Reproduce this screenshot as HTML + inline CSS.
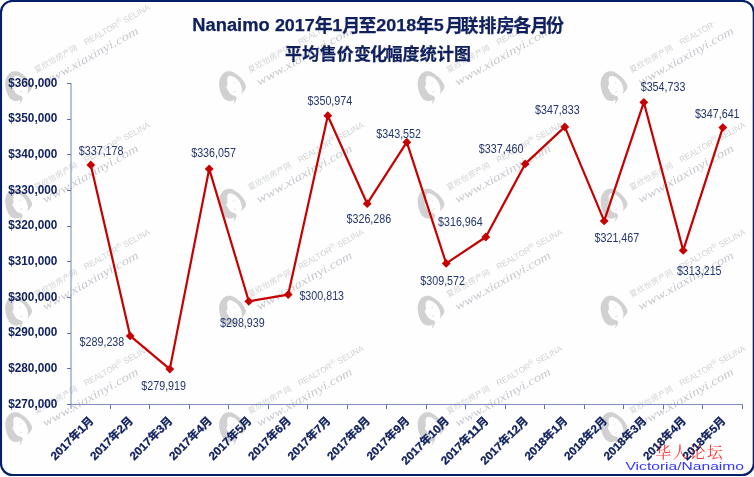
<!DOCTYPE html>
<html lang="zh"><head><meta charset="utf-8"><title>Nanaimo 2017年1月至2018年5月联排房各月份平均售价变化幅度统计图</title>
<style>
html,body{margin:0;padding:0;background:#fff;}
body{width:754px;height:477px;overflow:hidden;font-family:"Liberation Sans",sans-serif;}
svg{display:block;will-change:transform;opacity:0.999;}
</style></head><body>
<svg width="754" height="477" viewBox="0 0 754 477" role="img" aria-label="Nanaimo 2017年1月至2018年5月联排房各月份平均售价变化幅度统计图">
<defs>
<g id="wmface"><path fill="#7a7a7a" fill-opacity="0.34" d="M-4.6 -17.2C-2 -17.4 0 -16.8 1.3 -16C3.5 -14.8 5.5 -13.5 7.2 -11.8C9 -10 10.3 -8.5 11.4 -6.7C12.5 -5 13.3 -3.5 13.5 -2.1C13.6 -0.5 12.6 1 11.4 2.5C10.6 3.5 9.8 4.5 8.8 5.4C9.3 3.5 9.6 1.8 9.3 0C9 -2 8.3 -4 7.2 -5.9C6 -7.8 4.6 -9.3 3 -10.5C1.6 -11.6 0.2 -12.4 -1.2 -12.6C-2.4 -12.8 -3.4 -12.6 -4.2 -12.2C-5 -11 -5.4 -9.8 -5.4 -8.4C-5.4 -7 -5.2 -5.6 -5 -4.2C-5.2 -3.2 -5.8 -2.2 -6.3 -1.3C-5.8 -0.4 -5.2 0.6 -4.6 1.6C-4.1 2.9 -3.4 4 -2.5 5C-1.4 6 -0.2 6.7 1.3 7.1C2 7.3 2.7 7.6 3.4 7.9C3.8 8.6 4.1 9.3 4.2 10C3.4 12.2 2.2 14.2 0.9 15.9C1.3 14.4 1.6 12.8 1.7 11.3C0.8 11.9 -0.2 12.3 -1.2 12.5C-2.6 12.7 -4 12.6 -5.4 12.1C-7 11.3 -8.5 10 -9.6 8.4C-11 6.4 -12 4 -12.5 1.6C-13 -0.6 -13.4 -2.8 -13.4 -5.1C-13.4 -7.5 -12.8 -9.8 -11.7 -11.8C-10.9 -13.3 -10 -14.5 -8.8 -15.5C-7.5 -16.5 -6 -17 -4.6 -17.2Z"/><path d="M0.6 -5l1.5 -1.1M1.2 3.8l2.2 -1.3" stroke="#7a7a7a" stroke-opacity="0.3" stroke-width="0.8" fill="none"/></g>
<g id="wmt"><g transform="translate(17.6 -15.6) rotate(-29.3)" fill="#6a6a7c" fill-opacity="0.3"><text x="0 8.05 16.10 24.15 32.20 40.25" y="0" font-family="'Liberation Sans', 'Noto Sans CJK SC', sans-serif" font-size="7.8">夏欣怡房产网</text></g><text transform="translate(67.4 -43.2) rotate(-29.3)" font-family="'Liberation Sans', sans-serif" font-size="8.4" fill="#6a6a7c" fill-opacity="0.3" textLength="74" lengthAdjust="spacingAndGlyphs">REALTOR<tspan dy="-3.2" font-size="7.4">®</tspan><tspan dy="3.2"> SELINA</tspan></text><text transform="translate(26.5 -2.5) rotate(-29.3)" x="0" y="0" font-family="'Liberation Serif', cursive" font-style="italic" font-size="12" fill="#6a6a7c" fill-opacity="0.36" textLength="108" lengthAdjust="spacingAndGlyphs">www.xiaxinyi.com</text></g>
<clipPath id="wmclip"><path d="M0 0H185V31H580V0H711V22.5H754V477H0Z"/></clipPath>
</defs>
<rect x="0.95" y="0.95" width="752.85" height="474.05" rx="11.5" ry="11.5" fill="#fdfefd" stroke="#05206a" stroke-width="2.2"/>
<g clip-path="url(#wmclip)">
<use href="#wmface" x="18.6" y="88.5"/><use href="#wmt" x="18.6" y="88.5"/>
<use href="#wmface" x="232.5" y="88.5"/><use href="#wmt" x="232.5" y="88.5"/>
<use href="#wmface" x="431.0" y="88.5"/><use href="#wmt" x="431.0" y="88.5"/>
<use href="#wmface" x="614.0" y="88.5"/><use href="#wmt" x="614.0" y="88.5"/>
<use href="#wmface" x="18.6" y="206.0"/><use href="#wmt" x="18.6" y="206.0"/>
<use href="#wmface" x="232.5" y="206.0"/><use href="#wmt" x="232.5" y="206.0"/>
<use href="#wmface" x="431.0" y="206.0"/><use href="#wmt" x="431.0" y="206.0"/>
<use href="#wmface" x="614.0" y="206.0"/><use href="#wmt" x="614.0" y="206.0"/>
<use href="#wmface" x="18.6" y="313.0"/><use href="#wmt" x="18.6" y="313.0"/>
<use href="#wmface" x="232.5" y="313.0"/><use href="#wmt" x="232.5" y="313.0"/>
<use href="#wmface" x="431.0" y="313.0"/><use href="#wmt" x="431.0" y="313.0"/>
<use href="#wmface" x="614.0" y="313.0"/><use href="#wmt" x="614.0" y="313.0"/>
<use href="#wmface" x="18.6" y="429.5"/><use href="#wmt" x="18.6" y="429.5"/>
<use href="#wmface" x="232.5" y="429.5"/><use href="#wmt" x="232.5" y="429.5"/>
<use href="#wmface" x="431.0" y="429.5"/><use href="#wmt" x="431.0" y="429.5"/>
<use href="#wmface" x="614.0" y="429.5"/><use href="#wmt" x="614.0" y="429.5"/>
</g>
<path d="M71.0 83.0V408.8" stroke="#7486b8" stroke-width="1" fill="none"/>
<g stroke="#7f8fbe" stroke-width="1" fill="none" shape-rendering="crispEdges">
<path d="M70.0 404.5H743.0"/>
</g><g stroke="#5f72aa" stroke-width="1" fill="none" shape-rendering="crispEdges">
<path d="M67.0 83.5H71.0"/>
<path d="M67.0 119.2H71.0"/>
<path d="M67.0 154.8H71.0"/>
<path d="M67.0 190.5H71.0"/>
<path d="M67.0 226.2H71.0"/>
<path d="M67.0 261.8H71.0"/>
<path d="M67.0 297.5H71.0"/>
<path d="M67.0 333.2H71.0"/>
<path d="M67.0 368.8H71.0"/>
<path d="M67.0 404.5H71.0"/>
<path d="M110.0 404.5V408.8"/>
<path d="M149.5 404.5V408.8"/>
<path d="M189.0 404.5V408.8"/>
<path d="M228.5 404.5V408.8"/>
<path d="M268.0 404.5V408.8"/>
<path d="M307.5 404.5V408.8"/>
<path d="M347.0 404.5V408.8"/>
<path d="M386.5 404.5V408.8"/>
<path d="M426.0 404.5V408.8"/>
<path d="M465.5 404.5V408.8"/>
<path d="M505.0 404.5V408.8"/>
<path d="M544.5 404.5V408.8"/>
<path d="M584.0 404.5V408.8"/>
<path d="M623.5 404.5V408.8"/>
<path d="M663.0 404.5V408.8"/>
<path d="M702.5 404.5V408.8"/>
<path d="M742.0 404.5V408.8"/>
</g>
<g font-family="'Liberation Sans', sans-serif" font-weight="bold" font-size="12.0" fill="#10205e" text-anchor="end">
<text x="57.4" y="86.6" textLength="49.2" lengthAdjust="spacingAndGlyphs">$360,000</text>
<text x="57.4" y="122.3" textLength="49.2" lengthAdjust="spacingAndGlyphs">$350,000</text>
<text x="57.4" y="157.9" textLength="49.2" lengthAdjust="spacingAndGlyphs">$340,000</text>
<text x="57.4" y="193.6" textLength="49.2" lengthAdjust="spacingAndGlyphs">$330,000</text>
<text x="57.4" y="229.3" textLength="49.2" lengthAdjust="spacingAndGlyphs">$320,000</text>
<text x="57.4" y="264.9" textLength="49.2" lengthAdjust="spacingAndGlyphs">$310,000</text>
<text x="57.4" y="300.6" textLength="49.2" lengthAdjust="spacingAndGlyphs">$300,000</text>
<text x="57.4" y="336.3" textLength="49.2" lengthAdjust="spacingAndGlyphs">$290,000</text>
<text x="57.4" y="371.9" textLength="49.2" lengthAdjust="spacingAndGlyphs">$280,000</text>
<text x="57.4" y="407.6" textLength="49.2" lengthAdjust="spacingAndGlyphs">$270,000</text>
</g>
<polyline fill="none" stroke="#c60000" stroke-width="2.2" stroke-linejoin="round" points="90.8,164.9 130.2,335.9 169.8,369.1 209.2,168.9 248.8,301.3 288.2,294.6 327.8,115.7 367.2,203.7 406.8,142.2 446.2,263.4 485.8,237.0 525.2,163.9 564.8,126.9 604.2,220.9 643.8,102.3 683.2,250.4 722.8,127.6"/>
<g fill="#c60000">
<path d="M90.8 160.5l4.4 4.4l-4.4 4.4l-4.4 -4.4z"/>
<path d="M130.2 331.5l4.4 4.4l-4.4 4.4l-4.4 -4.4z"/>
<path d="M169.8 364.7l4.4 4.4l-4.4 4.4l-4.4 -4.4z"/>
<path d="M209.2 164.5l4.4 4.4l-4.4 4.4l-4.4 -4.4z"/>
<path d="M248.8 296.9l4.4 4.4l-4.4 4.4l-4.4 -4.4z"/>
<path d="M288.2 290.2l4.4 4.4l-4.4 4.4l-4.4 -4.4z"/>
<path d="M327.8 111.3l4.4 4.4l-4.4 4.4l-4.4 -4.4z"/>
<path d="M367.2 199.3l4.4 4.4l-4.4 4.4l-4.4 -4.4z"/>
<path d="M406.8 137.8l4.4 4.4l-4.4 4.4l-4.4 -4.4z"/>
<path d="M446.2 259.0l4.4 4.4l-4.4 4.4l-4.4 -4.4z"/>
<path d="M485.8 232.6l4.4 4.4l-4.4 4.4l-4.4 -4.4z"/>
<path d="M525.2 159.5l4.4 4.4l-4.4 4.4l-4.4 -4.4z"/>
<path d="M564.8 122.5l4.4 4.4l-4.4 4.4l-4.4 -4.4z"/>
<path d="M604.2 216.5l4.4 4.4l-4.4 4.4l-4.4 -4.4z"/>
<path d="M643.8 97.9l4.4 4.4l-4.4 4.4l-4.4 -4.4z"/>
<path d="M683.2 246.0l4.4 4.4l-4.4 4.4l-4.4 -4.4z"/>
<path d="M722.8 123.2l4.4 4.4l-4.4 4.4l-4.4 -4.4z"/>
</g>
<g font-family="'Liberation Sans', sans-serif" font-size="12.0" fill="#24366f">
<text x="78.8" y="155.2" textLength="44.7" lengthAdjust="spacingAndGlyphs">$337,178</text>
<text x="79.6" y="345.5" textLength="44.7" lengthAdjust="spacingAndGlyphs">$289,238</text>
<text x="141.3" y="389.9" textLength="44.7" lengthAdjust="spacingAndGlyphs">$279,919</text>
<text x="191.2" y="156.7" textLength="44.7" lengthAdjust="spacingAndGlyphs">$336,057</text>
<text x="220.0" y="326.9" textLength="44.7" lengthAdjust="spacingAndGlyphs">$298,939</text>
<text x="299.4" y="299.9" textLength="44.7" lengthAdjust="spacingAndGlyphs">$300,813</text>
<text x="307.5" y="105.2" textLength="44.7" lengthAdjust="spacingAndGlyphs">$350,974</text>
<text x="346.5" y="222.8" textLength="44.7" lengthAdjust="spacingAndGlyphs">$326,286</text>
<text x="376.3" y="137.7" textLength="44.7" lengthAdjust="spacingAndGlyphs">$343,552</text>
<text x="420.3" y="284.8" textLength="44.7" lengthAdjust="spacingAndGlyphs">$309,572</text>
<text x="438.0" y="226.4" textLength="44.7" lengthAdjust="spacingAndGlyphs">$316,964</text>
<text x="478.8" y="153.2" textLength="44.7" lengthAdjust="spacingAndGlyphs">$337,460</text>
<text x="535.0" y="114.4" textLength="44.7" lengthAdjust="spacingAndGlyphs">$347,833</text>
<text x="594.5" y="242.0" textLength="44.7" lengthAdjust="spacingAndGlyphs">$321,467</text>
<text x="640.7" y="91.2" textLength="44.7" lengthAdjust="spacingAndGlyphs">$354,733</text>
<text x="676.9" y="274.5" textLength="44.7" lengthAdjust="spacingAndGlyphs">$313,215</text>
<text x="694.9" y="117.7" textLength="44.7" lengthAdjust="spacingAndGlyphs">$347,641</text>
</g>
<g fill="#10205e" stroke="#10205e" stroke-width="0.25" font-family="'Liberation Sans', 'Noto Sans CJK SC', sans-serif"><text x="192.30" y="30.90" font-size="17.50" font-weight="bold" textLength="77.40" lengthAdjust="spacingAndGlyphs">Nanaimo</text><text x="274.90" y="30.90" font-size="17.30" font-weight="bold" textLength="39.90" lengthAdjust="spacingAndGlyphs">2017</text><text x="332.30" y="30.90" font-size="17.30" font-weight="bold" textLength="10.00" lengthAdjust="spacingAndGlyphs">1</text><text x="376.30" y="30.90" font-size="17.30" font-weight="bold" textLength="39.90" lengthAdjust="spacingAndGlyphs">2018</text><text x="433.80" y="30.90" font-size="17.30" font-weight="bold" textLength="10.00" lengthAdjust="spacingAndGlyphs">5</text><text x="314.63" y="31.60" font-size="18" font-weight="bold">年</text><text x="342.34 358.38" y="31.60" font-size="18" font-weight="bold">月至</text><text x="416.03" y="31.60" font-size="18" font-weight="bold">年</text><text x="445.14 460.53 478.41 496.55 513.34 530.54 545.97" y="31.60" font-size="18" font-weight="bold">月联排房各月份</text><text x="285.02 302.28 319.77 336.67 353.88 369.94 385.62 402.58 419.83 436.91 453.88" y="60.10" font-size="17" font-weight="bold">平均售价变化幅度统计图</text></g>
<g fill="#ff3434" font-family="'Liberation Serif', 'Noto Serif CJK SC', serif"><text x="655.40 672.60 689.80 707.00" y="458.40" font-size="15.6">华人论坛</text></g>
<text x="625.5" y="469.9" font-family="'Liberation Sans', sans-serif" font-size="11.3" fill="#3535ff" textLength="118.5" lengthAdjust="spacingAndGlyphs">Victoria/Nanaimo</text>
<g transform="translate(94.35 421.50) rotate(-45) translate(-55.35 0)" stroke="#10205e" stroke-width="0.3"><g fill="#10205e" font-family="'Liberation Sans', 'Noto Sans CJK SC', sans-serif"><text x="0.00" y="0.00" font-size="11.30" font-weight="bold" textLength="26.20" lengthAdjust="spacingAndGlyphs">2017</text><text x="26.20" y="0.00" font-size="11.30" font-weight="bold">年</text><text x="37.50" y="0.00" font-size="11.30" font-weight="bold" textLength="6.55" lengthAdjust="spacingAndGlyphs">1</text><text x="44.05" y="0.00" font-size="11.30" font-weight="bold">月</text></g></g>
<g transform="translate(133.85 421.50) rotate(-45) translate(-55.35 0)" stroke="#10205e" stroke-width="0.3"><g fill="#10205e" font-family="'Liberation Sans', 'Noto Sans CJK SC', sans-serif"><text x="0.00" y="0.00" font-size="11.30" font-weight="bold" textLength="26.20" lengthAdjust="spacingAndGlyphs">2017</text><text x="26.20" y="0.00" font-size="11.30" font-weight="bold">年</text><text x="37.50" y="0.00" font-size="11.30" font-weight="bold" textLength="6.55" lengthAdjust="spacingAndGlyphs">2</text><text x="44.05" y="0.00" font-size="11.30" font-weight="bold">月</text></g></g>
<g transform="translate(173.35 421.50) rotate(-45) translate(-55.35 0)" stroke="#10205e" stroke-width="0.3"><g fill="#10205e" font-family="'Liberation Sans', 'Noto Sans CJK SC', sans-serif"><text x="0.00" y="0.00" font-size="11.30" font-weight="bold" textLength="26.20" lengthAdjust="spacingAndGlyphs">2017</text><text x="26.20" y="0.00" font-size="11.30" font-weight="bold">年</text><text x="37.50" y="0.00" font-size="11.30" font-weight="bold" textLength="6.55" lengthAdjust="spacingAndGlyphs">3</text><text x="44.05" y="0.00" font-size="11.30" font-weight="bold">月</text></g></g>
<g transform="translate(212.85 421.50) rotate(-45) translate(-55.35 0)" stroke="#10205e" stroke-width="0.3"><g fill="#10205e" font-family="'Liberation Sans', 'Noto Sans CJK SC', sans-serif"><text x="0.00" y="0.00" font-size="11.30" font-weight="bold" textLength="26.20" lengthAdjust="spacingAndGlyphs">2017</text><text x="26.20" y="0.00" font-size="11.30" font-weight="bold">年</text><text x="37.50" y="0.00" font-size="11.30" font-weight="bold" textLength="6.55" lengthAdjust="spacingAndGlyphs">4</text><text x="44.05" y="0.00" font-size="11.30" font-weight="bold">月</text></g></g>
<g transform="translate(252.35 421.50) rotate(-45) translate(-55.35 0)" stroke="#10205e" stroke-width="0.3"><g fill="#10205e" font-family="'Liberation Sans', 'Noto Sans CJK SC', sans-serif"><text x="0.00" y="0.00" font-size="11.30" font-weight="bold" textLength="26.20" lengthAdjust="spacingAndGlyphs">2017</text><text x="26.20" y="0.00" font-size="11.30" font-weight="bold">年</text><text x="37.50" y="0.00" font-size="11.30" font-weight="bold" textLength="6.55" lengthAdjust="spacingAndGlyphs">5</text><text x="44.05" y="0.00" font-size="11.30" font-weight="bold">月</text></g></g>
<g transform="translate(291.85 421.50) rotate(-45) translate(-55.35 0)" stroke="#10205e" stroke-width="0.3"><g fill="#10205e" font-family="'Liberation Sans', 'Noto Sans CJK SC', sans-serif"><text x="0.00" y="0.00" font-size="11.30" font-weight="bold" textLength="26.20" lengthAdjust="spacingAndGlyphs">2017</text><text x="26.20" y="0.00" font-size="11.30" font-weight="bold">年</text><text x="37.50" y="0.00" font-size="11.30" font-weight="bold" textLength="6.55" lengthAdjust="spacingAndGlyphs">6</text><text x="44.05" y="0.00" font-size="11.30" font-weight="bold">月</text></g></g>
<g transform="translate(331.35 421.50) rotate(-45) translate(-55.35 0)" stroke="#10205e" stroke-width="0.3"><g fill="#10205e" font-family="'Liberation Sans', 'Noto Sans CJK SC', sans-serif"><text x="0.00" y="0.00" font-size="11.30" font-weight="bold" textLength="26.20" lengthAdjust="spacingAndGlyphs">2017</text><text x="26.20" y="0.00" font-size="11.30" font-weight="bold">年</text><text x="37.50" y="0.00" font-size="11.30" font-weight="bold" textLength="6.55" lengthAdjust="spacingAndGlyphs">7</text><text x="44.05" y="0.00" font-size="11.30" font-weight="bold">月</text></g></g>
<g transform="translate(370.85 421.50) rotate(-45) translate(-55.35 0)" stroke="#10205e" stroke-width="0.3"><g fill="#10205e" font-family="'Liberation Sans', 'Noto Sans CJK SC', sans-serif"><text x="0.00" y="0.00" font-size="11.30" font-weight="bold" textLength="26.20" lengthAdjust="spacingAndGlyphs">2017</text><text x="26.20" y="0.00" font-size="11.30" font-weight="bold">年</text><text x="37.50" y="0.00" font-size="11.30" font-weight="bold" textLength="6.55" lengthAdjust="spacingAndGlyphs">8</text><text x="44.05" y="0.00" font-size="11.30" font-weight="bold">月</text></g></g>
<g transform="translate(410.35 421.50) rotate(-45) translate(-55.35 0)" stroke="#10205e" stroke-width="0.3"><g fill="#10205e" font-family="'Liberation Sans', 'Noto Sans CJK SC', sans-serif"><text x="0.00" y="0.00" font-size="11.30" font-weight="bold" textLength="26.20" lengthAdjust="spacingAndGlyphs">2017</text><text x="26.20" y="0.00" font-size="11.30" font-weight="bold">年</text><text x="37.50" y="0.00" font-size="11.30" font-weight="bold" textLength="6.55" lengthAdjust="spacingAndGlyphs">9</text><text x="44.05" y="0.00" font-size="11.30" font-weight="bold">月</text></g></g>
<g transform="translate(449.85 421.50) rotate(-45) translate(-61.90 0)" stroke="#10205e" stroke-width="0.3"><g fill="#10205e" font-family="'Liberation Sans', 'Noto Sans CJK SC', sans-serif"><text x="0.00" y="0.00" font-size="11.30" font-weight="bold" textLength="26.20" lengthAdjust="spacingAndGlyphs">2017</text><text x="26.20" y="0.00" font-size="11.30" font-weight="bold">年</text><text x="37.50" y="0.00" font-size="11.30" font-weight="bold" textLength="13.10" lengthAdjust="spacingAndGlyphs">10</text><text x="50.60" y="0.00" font-size="11.30" font-weight="bold">月</text></g></g>
<g transform="translate(489.35 421.50) rotate(-45) translate(-61.90 0)" stroke="#10205e" stroke-width="0.3"><g fill="#10205e" font-family="'Liberation Sans', 'Noto Sans CJK SC', sans-serif"><text x="0.00" y="0.00" font-size="11.30" font-weight="bold" textLength="26.20" lengthAdjust="spacingAndGlyphs">2017</text><text x="26.20" y="0.00" font-size="11.30" font-weight="bold">年</text><text x="37.50" y="0.00" font-size="11.30" font-weight="bold" textLength="13.10" lengthAdjust="spacingAndGlyphs">11</text><text x="50.60" y="0.00" font-size="11.30" font-weight="bold">月</text></g></g>
<g transform="translate(528.85 421.50) rotate(-45) translate(-61.90 0)" stroke="#10205e" stroke-width="0.3"><g fill="#10205e" font-family="'Liberation Sans', 'Noto Sans CJK SC', sans-serif"><text x="0.00" y="0.00" font-size="11.30" font-weight="bold" textLength="26.20" lengthAdjust="spacingAndGlyphs">2017</text><text x="26.20" y="0.00" font-size="11.30" font-weight="bold">年</text><text x="37.50" y="0.00" font-size="11.30" font-weight="bold" textLength="13.10" lengthAdjust="spacingAndGlyphs">12</text><text x="50.60" y="0.00" font-size="11.30" font-weight="bold">月</text></g></g>
<g transform="translate(568.35 421.50) rotate(-45) translate(-55.35 0)" stroke="#10205e" stroke-width="0.3"><g fill="#10205e" font-family="'Liberation Sans', 'Noto Sans CJK SC', sans-serif"><text x="0.00" y="0.00" font-size="11.30" font-weight="bold" textLength="26.20" lengthAdjust="spacingAndGlyphs">2018</text><text x="26.20" y="0.00" font-size="11.30" font-weight="bold">年</text><text x="37.50" y="0.00" font-size="11.30" font-weight="bold" textLength="6.55" lengthAdjust="spacingAndGlyphs">1</text><text x="44.05" y="0.00" font-size="11.30" font-weight="bold">月</text></g></g>
<g transform="translate(607.85 421.50) rotate(-45) translate(-55.35 0)" stroke="#10205e" stroke-width="0.3"><g fill="#10205e" font-family="'Liberation Sans', 'Noto Sans CJK SC', sans-serif"><text x="0.00" y="0.00" font-size="11.30" font-weight="bold" textLength="26.20" lengthAdjust="spacingAndGlyphs">2018</text><text x="26.20" y="0.00" font-size="11.30" font-weight="bold">年</text><text x="37.50" y="0.00" font-size="11.30" font-weight="bold" textLength="6.55" lengthAdjust="spacingAndGlyphs">2</text><text x="44.05" y="0.00" font-size="11.30" font-weight="bold">月</text></g></g>
<g transform="translate(647.35 421.50) rotate(-45) translate(-55.35 0)" stroke="#10205e" stroke-width="0.3"><g fill="#10205e" font-family="'Liberation Sans', 'Noto Sans CJK SC', sans-serif"><text x="0.00" y="0.00" font-size="11.30" font-weight="bold" textLength="26.20" lengthAdjust="spacingAndGlyphs">2018</text><text x="26.20" y="0.00" font-size="11.30" font-weight="bold">年</text><text x="37.50" y="0.00" font-size="11.30" font-weight="bold" textLength="6.55" lengthAdjust="spacingAndGlyphs">3</text><text x="44.05" y="0.00" font-size="11.30" font-weight="bold">月</text></g></g>
<g transform="translate(686.85 421.50) rotate(-45) translate(-55.35 0)" stroke="#10205e" stroke-width="0.3"><g fill="#10205e" font-family="'Liberation Sans', 'Noto Sans CJK SC', sans-serif"><text x="0.00" y="0.00" font-size="11.30" font-weight="bold" textLength="26.20" lengthAdjust="spacingAndGlyphs">2018</text><text x="26.20" y="0.00" font-size="11.30" font-weight="bold">年</text><text x="37.50" y="0.00" font-size="11.30" font-weight="bold" textLength="6.55" lengthAdjust="spacingAndGlyphs">4</text><text x="44.05" y="0.00" font-size="11.30" font-weight="bold">月</text></g></g>
<g transform="translate(726.35 421.50) rotate(-45) translate(-55.35 0)" stroke="#10205e" stroke-width="0.3"><g fill="#10205e" font-family="'Liberation Sans', 'Noto Sans CJK SC', sans-serif"><text x="0.00" y="0.00" font-size="11.30" font-weight="bold" textLength="26.20" lengthAdjust="spacingAndGlyphs">2018</text><text x="26.20" y="0.00" font-size="11.30" font-weight="bold">年</text><text x="37.50" y="0.00" font-size="11.30" font-weight="bold" textLength="6.55" lengthAdjust="spacingAndGlyphs">5</text><text x="44.05" y="0.00" font-size="11.30" font-weight="bold">月</text></g></g>
</svg>
</body></html>
